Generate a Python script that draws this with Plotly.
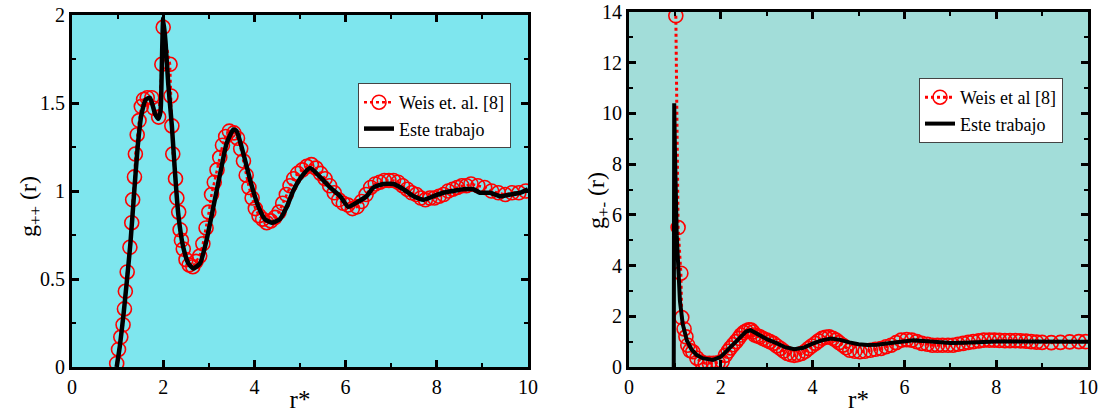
import plotly.graph_objects as go

# ---- Left panel: g++(r) ----
weis_pp_r = [0.98,1.02,1.07,1.12,1.15,1.17,1.21,1.27,1.31,1.33,1.37,1.39,1.43,1.47,1.52,1.57,1.65,1.75,1.80,1.90,1.97,2.00,2.15,2.17,2.19,2.21,2.27,2.30,2.34,2.37,2.40,2.44,2.50,2.57,2.65,2.72,2.80,2.87,2.94,3.00,3.06,3.12,3.18,3.24,3.30,3.37,3.45,3.55,3.63,3.70,3.76,3.82,3.88,3.95,4.02,4.10,4.18,4.27,4.36,4.45,4.54,4.62,4.70,4.78,4.86,4.95,5.05,5.15,5.25,5.35,5.45,5.55,5.65,5.75,5.85,5.95,6.05,6.15,6.25,6.35,6.45,6.55,6.65,6.75,6.85,6.95,7.05,7.15,7.25,7.35,7.45,7.55,7.65,7.75,7.85,7.95,8.05,8.15,8.25,8.35,8.45,8.55,8.65,8.75,8.90,9.05,9.20,9.35,9.50,9.65,9.80,9.95]
weis_pp_g = [0.02,0.10,0.17,0.24,0.33,0.43,0.54,0.68,0.82,0.95,1.08,1.21,1.32,1.40,1.48,1.52,1.53,1.53,1.47,1.42,1.72,1.93,1.72,1.54,1.37,1.21,1.07,0.96,0.88,0.78,0.72,0.67,0.61,0.58,0.57,0.60,0.63,0.70,0.79,0.88,0.98,1.05,1.12,1.19,1.26,1.31,1.34,1.33,1.30,1.24,1.17,1.09,1.02,0.96,0.90,0.86,0.84,0.82,0.83,0.85,0.88,0.93,0.98,1.03,1.07,1.10,1.12,1.14,1.15,1.13,1.10,1.07,1.03,0.99,0.95,0.93,0.92,0.90,0.91,0.94,0.98,1.02,1.04,1.05,1.06,1.06,1.06,1.05,1.03,1.01,0.99,0.98,0.96,0.95,0.96,0.96,0.97,0.98,1.00,1.01,1.02,1.03,1.03,1.04,1.03,1.02,1.00,0.99,0.98,0.99,0.99,1.00]

este_pp_r = [0.98,1.05,1.13,1.20,1.28,1.36,1.44,1.52,1.62,1.71,1.82,1.89,1.94,1.97,2.00,2.05,2.11,2.19,2.26,2.33,2.44,2.55,2.66,2.81,2.95,3.10,3.25,3.39,3.54,3.61,3.72,3.83,3.94,4.09,4.23,4.38,4.56,4.71,4.85,5.03,5.22,5.44,5.66,5.88,6.06,6.28,6.46,6.61,6.83,7.05,7.27,7.49,7.71,7.92,8.14,8.36,8.58,8.80,8.95,9.17,9.39,9.61,9.83,10.0]
este_pp_g = [0.0,0.12,0.30,0.48,0.70,0.98,1.25,1.43,1.52,1.53,1.44,1.41,1.45,1.71,1.98,1.85,1.61,1.37,1.10,0.87,0.68,0.59,0.56,0.59,0.72,0.91,1.10,1.27,1.35,1.34,1.25,1.14,1.03,0.91,0.84,0.82,0.84,0.91,1.00,1.08,1.13,1.08,1.02,0.97,0.91,0.94,0.97,1.02,1.04,1.04,1.01,0.97,0.95,0.97,0.99,1.00,1.01,1.01,0.99,0.99,0.97,0.98,0.99,1.01]

# ---- Right panel: g+-(r) ----
weis_pm_r = [1.02,1.07,1.13,1.15,1.20,1.24,1.28,1.33,1.39,1.48,1.58,1.66,1.75,1.84,1.94,2.03,2.10,2.16,2.21,2.27,2.33,2.39,2.44,2.50,2.55,2.61,2.66,2.70,2.74,2.80,2.85,2.92,3.00,3.07,3.15,3.22,3.30,3.37,3.45,3.52,3.60,3.68,3.76,3.84,3.91,3.98,4.06,4.13,4.21,4.28,4.36,4.44,4.51,4.58,4.66,4.73,4.81,4.92,5.03,5.14,5.26,5.37,5.49,5.60,5.71,5.82,5.93,6.05,6.16,6.27,6.38,6.50,6.61,6.72,6.83,6.95,7.06,7.17,7.28,7.39,7.50,7.62,7.73,7.85,7.96,8.07,8.19,8.30,8.42,8.53,8.65,8.76,8.88,9.00,9.20,9.40,9.60,9.80,9.95]
weis_pm_g = [13.85,5.5,3.7,1.95,1.5,1.19,0.86,0.65,0.6,0.35,0.2,0.15,0.15,0.15,0.17,0.22,0.46,0.62,0.75,0.88,1.0,1.13,1.26,1.36,1.42,1.47,1.46,1.38,1.26,1.22,1.19,1.12,1.06,1.0,0.93,0.83,0.73,0.63,0.53,0.49,0.46,0.49,0.53,0.62,0.73,0.83,0.93,1.03,1.13,1.17,1.19,1.13,1.06,0.96,0.86,0.76,0.66,0.62,0.60,0.62,0.66,0.70,0.73,0.80,0.86,0.96,1.06,1.08,1.06,1.00,0.93,0.90,0.86,0.86,0.86,0.86,0.86,0.90,0.93,0.97,1.0,1.03,1.06,1.06,1.06,1.05,1.04,1.04,1.04,1.03,1.02,1.0,0.98,0.97,0.96,0.97,0.99,1.0,1.0]

este_pm_r = [0.975,0.98,0.985,1.0,1.04,1.08,1.11,1.17,1.26,1.36,1.47,1.60,1.83,2.0,2.2,2.4,2.55,2.65,2.8,3.0,3.2,3.4,3.6,3.8,4.0,4.2,4.4,4.6,4.8,5.0,5.2,5.4,5.7,6.0,6.2,6.5,6.8,7.0,7.3,7.6,8.0,8.5,9.0,9.5,10.0]
este_pm_g = [0.0,5.0,10.4,8.6,5.2,3.4,2.6,1.7,1.05,0.7,0.48,0.35,0.28,0.4,0.75,1.15,1.4,1.45,1.3,1.1,0.95,0.78,0.70,0.76,0.92,1.05,1.12,1.07,0.97,0.9,0.87,0.88,0.95,1.03,1.05,1.02,0.97,0.95,0.96,0.99,1.01,1.01,1.0,0.99,1.0]

x_ticks = [0, 2, 4, 6, 8, 10]
left_y_ticks = [0, 0.5, 1, 1.5, 2]
right_y_ticks = [0, 2, 4, 6, 8, 10, 12, 14]

FONT = "Liberation Serif"
RED = "#ff0000"

fig = go.Figure()

fig.add_trace(go.Scatter(x=weis_pp_r, y=weis_pp_g, mode="lines+markers", name="Weis et. al. [8]",
                         line=dict(color=RED, width=2.5, dash="dot"),
                         marker=dict(symbol="circle-open", size=14, color=RED, line=dict(width=1.6, color=RED)),
                         xaxis="x", yaxis="y", legend="legend"))
fig.add_trace(go.Scatter(x=este_pp_r, y=este_pp_g, mode="lines", name="Este trabajo",
                         line=dict(color="black", width=4.5, shape="spline", smoothing=0.5),
                         xaxis="x", yaxis="y", legend="legend"))
fig.add_trace(go.Scatter(x=weis_pm_r, y=weis_pm_g, mode="lines+markers", name="Weis et al [8]",
                         line=dict(color=RED, width=3, dash="dot"),
                         marker=dict(symbol="circle-open", size=14, color=RED, line=dict(width=1.6, color=RED)),
                         xaxis="x2", yaxis="y2", legend="legend2"))
fig.add_trace(go.Scatter(x=este_pm_r, y=este_pm_g, mode="lines", name="Este trabajo",
                         line=dict(color="black", width=4),
                         xaxis="x2", yaxis="y2", legend="legend2"))

W, H = 1102, 413
def px_x(p): return p / W
def px_y(p): return (H - p) / H

axis_common = dict(showline=True, linewidth=3, linecolor="black", mirror="allticks",
                   ticks="inside", ticklen=7, tickwidth=3, tickcolor="black",
                   showgrid=False, zeroline=False, automargin=False,
                   ticklabeloverflow="allow",
                   tickfont=dict(family=FONT, size=20, color="black"))

fig.update_layout(
    width=W, height=H,
    margin=dict(l=0, r=0, t=0, b=0),
    paper_bgcolor="white",
    plot_bgcolor="white",
    font=dict(family=FONT, color="black"),
    xaxis=dict(domain=[px_x(72), px_x(528)], range=[0, 10], tickvals=x_ticks, anchor="y",
               minor=dict(dtick=1, ticks="inside", ticklen=4, tickwidth=2, tickcolor="black"),
               title=dict(text="r*", font=dict(family=FONT, size=25), standoff=0), **axis_common),
    yaxis=dict(domain=[px_y(367), px_y(15)], range=[0, 2], tickvals=left_y_ticks, anchor="x",
               ticktext=["0", "0.5", "1", "1.5", "2"],
               minor=dict(dtick=0.25, ticks="inside", ticklen=4, tickwidth=2, tickcolor="black"),
               **axis_common),
    xaxis2=dict(domain=[px_x(629), px_x(1088)], range=[0, 10], tickvals=x_ticks, anchor="y2",
                minor=dict(dtick=1, ticks="inside", ticklen=4, tickwidth=2, tickcolor="black"),
                title=dict(text="r*", font=dict(family=FONT, size=25), standoff=0), **axis_common),
    yaxis2=dict(domain=[px_y(367), px_y(12)], range=[0, 14.0001], tickvals=right_y_ticks, anchor="x2",
                minor=dict(dtick=1, ticks="inside", ticklen=4, tickwidth=2, tickcolor="black"),
                **axis_common),
    legend=dict(x=px_x(358), y=px_y(83), xanchor="left", yanchor="top",
                bgcolor="white", bordercolor="#444444", borderwidth=1,
                font=dict(family=FONT, size=18), tracegroupgap=0, itemwidth=30),
    legend2=dict(x=px_x(919), y=px_y(78), xanchor="left", yanchor="top",
                 bgcolor="white", bordercolor="#444444", borderwidth=1,
                 font=dict(family=FONT, size=18), tracegroupgap=0, itemwidth=30),
    annotations=[
        dict(text="g<sub>++</sub> (r)", xref="paper", yref="paper", x=px_x(30), y=px_y(207),
             xanchor="center", yanchor="middle", textangle=-90, showarrow=False,
             font=dict(family=FONT, size=24, color="black")),
        dict(text="g<sub>+-</sub> (r)", xref="paper", yref="paper", x=px_x(598), y=px_y(200),
             xanchor="center", yanchor="middle", textangle=-90, showarrow=False,
             font=dict(family=FONT, size=24, color="black")),
    ],
    shapes=[
        dict(type="rect", xref="x domain", yref="y domain", x0=0, x1=1, y0=0, y1=1,
             fillcolor="#7ee6ee", line=dict(width=0), layer="below"),
        dict(type="rect", xref="x2 domain", yref="y2 domain", x0=0, x1=1, y0=0, y1=1,
             fillcolor="#a2ddd9", line=dict(width=0), layer="below"),
    ],
)

fig.write_html("out.html")
